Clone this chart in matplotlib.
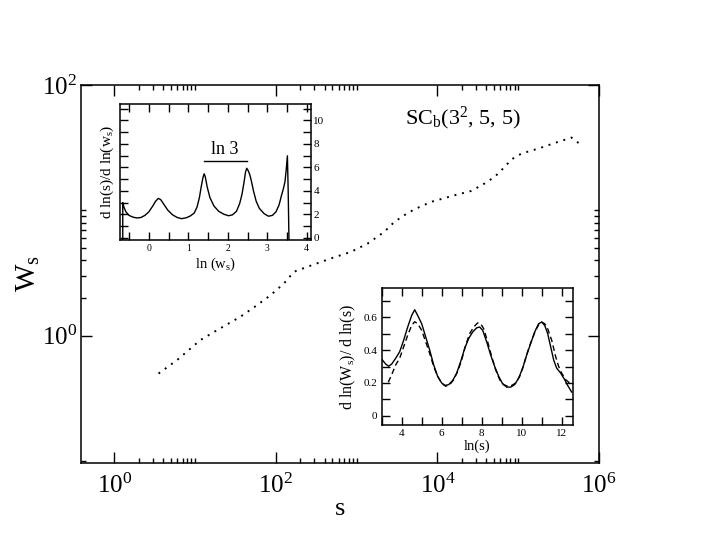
import numpy as np
import matplotlib
matplotlib.use("Agg")
import matplotlib.pyplot as plt
from matplotlib.ticker import FixedLocator, NullFormatter, MultipleLocator

plt.rcParams['font.family'] = ['Liberation Serif', 'DejaVu Serif']
plt.rcParams['mathtext.fontset'] = 'custom'
plt.rcParams['mathtext.rm'] = 'Liberation Serif'
plt.rcParams['mathtext.it'] = 'Liberation Serif:italic'

# main curve: W_s vs s
s_vals = [3.52, 5.96, 11.6, 18.7, 36.4, 58.7, 85.9, 126, 167, 245, 479, 847,
          1365, 2198, 2924, 3890, 5176, 8356, 16255, 26242, 38371, 51050,
          67920, 82410, 109650, 176600, 283800, 458100, 609500]
w_vals = [0.50, 0.64, 0.925, 1.11, 1.42, 1.76, 2.11, 2.62, 3.24, 3.55, 4.14, 4.67,
          5.44, 6.75, 8.09, 9.16, 10.2, 11.7, 13.2, 14.3, 16.4, 18.5,
          22.2, 25.5, 28.4, 31.1, 34.5, 38.1, 33.0]

# upper inset: d ln(s)/d ln(w_s) vs ln(w_s)
lnw = [-0.66, -0.66, -0.63, -0.58, -0.5, -0.4, -0.3, -0.2, -0.1, 0.0, 0.1, 0.17,
       0.24, 0.3, 0.38, 0.48, 0.6, 0.72, 0.83, 0.95, 1.05, 1.15, 1.22, 1.28,
       1.33, 1.37, 1.40, 1.43, 1.48, 1.55, 1.65, 1.77, 1.9, 2.02, 2.12, 2.22,
       2.3, 2.36, 2.41, 2.45, 2.48, 2.52, 2.56, 2.6, 2.65, 2.72, 2.8, 2.92,
       3.03, 3.13, 3.22, 3.3, 3.36, 3.41, 3.45, 3.48, 3.51, 3.53, 3.55]
dlns = [-0.3, 3.0, 2.6, 2.2, 1.9, 1.75, 1.68, 1.72, 1.9, 2.2, 2.7, 3.1,
        3.35, 3.25, 2.85, 2.35, 1.95, 1.72, 1.62, 1.7, 1.85, 2.1, 2.6, 3.4,
        4.4, 5.1, 5.45, 5.2, 4.3, 3.4, 2.7, 2.25, 2.0, 1.87, 1.95, 2.25,
        2.9, 3.7, 4.7, 5.6, 5.92, 5.7, 5.35, 4.8, 4.0, 3.1, 2.5, 2.05,
        1.83, 1.9, 2.2, 2.8, 3.6, 4.2, 4.8, 5.8, 6.98, 4.0, -0.3]

# lower inset: d ln(W_s)/d ln(s) vs ln(s), solid and dashed
lns_a = [3.0, 3.2, 3.35, 3.5, 3.7, 3.9, 4.1, 4.3, 4.5, 4.65, 4.8, 5.0, 5.2, 5.4,
         5.6, 5.8, 6.0, 6.15, 6.35, 6.55, 6.75, 6.95, 7.15, 7.35, 7.55, 7.75,
         7.9, 8.05, 8.25, 8.45, 8.65, 8.85, 9.05, 9.25, 9.45, 9.65, 9.85, 10.05,
         10.25, 10.45, 10.65, 10.85, 11.0, 11.15, 11.3, 11.45, 11.6, 11.75, 11.95,
         12.15, 12.3, 12.5]
slope_a = [0.345, 0.315, 0.302, 0.315, 0.35, 0.39, 0.46, 0.54, 0.61, 0.645, 0.61, 0.56, 0.48, 0.4,
           0.31, 0.24, 0.2, 0.185, 0.19, 0.215, 0.26, 0.33, 0.41, 0.47, 0.51, 0.535,
           0.54, 0.52, 0.45, 0.37, 0.3, 0.24, 0.195, 0.175, 0.175, 0.19, 0.23, 0.29,
           0.37, 0.44, 0.51, 0.56, 0.57, 0.55, 0.5, 0.42, 0.34, 0.29, 0.26,
           0.22, 0.185, 0.145]
lns_b = [3.33, 3.5, 3.7, 3.9, 4.1, 4.3, 4.5, 4.65, 4.8, 5.0, 5.2, 5.4, 5.6, 5.8,
         6.0, 6.2, 6.4, 6.6, 6.8, 7.0, 7.2, 7.4, 7.6, 7.8, 7.95, 8.1, 8.3, 8.5,
         8.7, 8.9, 9.1, 9.3, 9.5, 9.7, 9.9, 10.1, 10.3, 10.5, 10.7, 10.9, 11.0,
         11.15, 11.3, 11.5, 11.7, 11.85, 12.0, 12.2, 12.35, 12.5]
slope_b = [0.205, 0.25, 0.31, 0.35, 0.42, 0.49, 0.55, 0.572, 0.56, 0.52, 0.45, 0.38, 0.3, 0.24,
           0.2, 0.18, 0.19, 0.22, 0.27, 0.34, 0.43, 0.5, 0.54, 0.565, 0.56, 0.53, 0.45, 0.36,
           0.28, 0.22, 0.19, 0.18, 0.185, 0.2, 0.24, 0.31, 0.39, 0.46, 0.52, 0.565, 0.57,
           0.56, 0.53, 0.46, 0.36, 0.3, 0.26, 0.22, 0.205, 0.195]

fig = plt.figure(figsize=(7.05, 5.45), dpi=100)
ax = fig.add_axes([0.1149, 0.151, 0.7347, 0.693])

ax.plot(s_vals, w_vals, color='black', lw=1.4, linestyle=(0, (1, 3.0)))
ax.set_xscale('log')
ax.set_yscale('log')
ax.set_xlim(0.386, 1e6)
ax.set_ylim(0.0973, 100)

ax.xaxis.set_major_locator(FixedLocator([1, 1e2, 1e4, 1e6]))
ax.xaxis.set_minor_locator(FixedLocator([m * 10.0**k for k in (0, 2, 4) for m in range(2, 11)]))
ax.yaxis.set_major_locator(FixedLocator([1, 1e2]))
ax.yaxis.set_minor_locator(FixedLocator([m * 10.0**k for k in (-2, 0) for m in range(2, 11)]))
ax.xaxis.set_minor_formatter(NullFormatter())
ax.yaxis.set_minor_formatter(NullFormatter())
ax.set_xticklabels([r'$10^0$', r'$10^2$', r'$10^4$', r'$10^6$'])
ax.set_yticklabels([r'$10^0$', r'$10^2$'])
ax.tick_params(which='both', direction='in', top=True, right=True, width=1.0)
ax.tick_params(which='major', length=8, labelsize=18)
ax.tick_params(which='minor', length=3.5)
ax.tick_params(axis='x', which='major', pad=8)
ax.tick_params(axis='y', which='major', pad=3)
for sp in ax.spines.values():
    sp.set_linewidth(1.1)
ax.set_xlabel('s', fontsize=19, labelpad=0)
ax.set_ylabel(r'W$_\mathrm{s}$', fontsize=21, labelpad=0)
ax.text(0.625, 0.895, r'SC$_\mathrm{b}$(3$^2$, 5, 5)', transform=ax.transAxes,
        fontsize=16, ha='left', va='baseline')

# upper inset
ax1 = fig.add_axes([0.1702, 0.5596, 0.2705, 0.2495])
ax1.plot(lnw, dlns, color='black', lw=1.0)
ax1.set_xlim(-0.73, 4.1)
ax1.set_ylim(-0.2, 11.4)
ax1.xaxis.set_major_locator(MultipleLocator(1))
ax1.xaxis.set_minor_locator(MultipleLocator(0.5))
ax1.yaxis.set_major_locator(MultipleLocator(2))
ax1.yaxis.set_minor_locator(MultipleLocator(1))
ax1.yaxis.tick_right()
ax1.tick_params(which='both', direction='in', top=True, left=True, right=True, width=1.0)
ax1.tick_params(which='major', length=6, labelsize=8, pad=2)
ax1.tick_params(which='minor', length=6)
ax1.tick_params(axis='x', labelsize=7, pad=3)
for sp in ax1.spines.values():
    sp.set_linewidth(1.1)
ax1.set_xlabel(r'ln (w$_\mathrm{s}$)', fontsize=10.5, labelpad=2)
ax1.yaxis.set_label_position('left')
ax1.set_ylabel(r'd ln(s)/d ln(w$_\mathrm{s}$)', fontsize=11, labelpad=3)
ax1.plot([1.41, 2.48], [6.55, 6.55], color='black', lw=1.0)
ax1.text(1.93, 7.1, 'ln 3', fontsize=13, ha='center', va='baseline')

# lower inset
ax2 = fig.add_axes([0.5414, 0.2202, 0.2709, 0.2508])
ax2.plot(lns_a, slope_a, color='black', lw=1.0)
ax2.plot(lns_b, slope_b, color='black', lw=1.0, linestyle=(0, (4, 2.5)))
ax2.set_xlim(3, 12.55)
ax2.set_ylim(-0.055, 0.775)
ax2.xaxis.set_major_locator(MultipleLocator(2))
ax2.xaxis.set_minor_locator(MultipleLocator(1))
ax2.yaxis.set_major_locator(MultipleLocator(0.2))
ax2.yaxis.set_minor_locator(MultipleLocator(0.1))
ax2.yaxis.set_major_formatter(plt.FuncFormatter(lambda v, p: '0' if abs(v) < 1e-9 else f'{v:.1f}'))
ax2.tick_params(which='both', direction='in', top=True, right=True, width=1.0)
ax2.tick_params(which='major', length=6, labelsize=8, pad=3)
ax2.tick_params(which='minor', length=6)
for sp in ax2.spines.values():
    sp.set_linewidth(1.1)
ax2.set_xlabel('ln(s)', fontsize=10.5, labelpad=1)
ax2.set_ylabel(r'd ln(W$_\mathrm{s}$)/ d ln(s)', fontsize=11.5, labelpad=4)

fig.savefig('out.png', dpi=100)
